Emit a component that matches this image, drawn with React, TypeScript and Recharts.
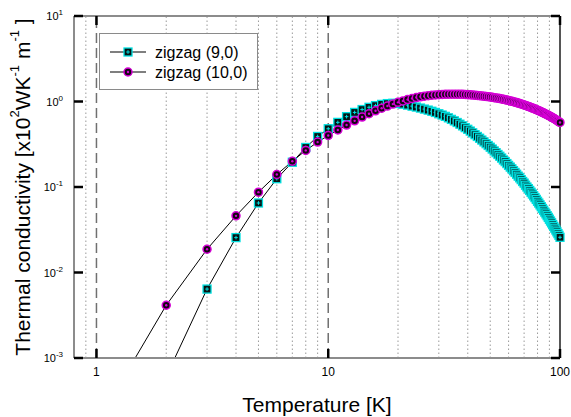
import React from "react";
import { ComposedChart, Line, XAxis, YAxis, ReferenceLine } from "recharts";

// temperature grid [K]
const temperature = [
  1, 2, 3, 4, 5, 6, 7, 8, 9, 10, 11, 12, 13, 14, 15, 16, 17, 18, 19, 20,
  21, 22, 23, 24, 25, 26, 27, 28, 29, 30, 31, 32, 33, 34, 35, 36, 37, 38, 39, 40,
  41, 42, 43, 44, 45, 46, 47, 48, 49, 50, 51, 52, 53, 54, 55, 56, 57, 58, 59, 60,
  61, 62, 63, 64, 65, 66, 67, 68, 69, 70, 71, 72, 73, 74, 75, 76, 77, 78, 79, 80,
  81, 82, 83, 84, 85, 86, 87, 88, 89, 90, 91, 92, 93, 94, 95, 96, 97, 98, 99, 100,
];

// thermal conductivity, zigzag (9,0)
const zigzag90 = [
  0.000025, 0.00061, 0.0064, 0.0256, 0.065, 0.125, 0.195, 0.29, 0.39, 0.48,
  0.57, 0.665, 0.745, 0.805, 0.855, 0.895, 0.925, 0.945, 0.953, 0.948,
  0.931, 0.908, 0.883, 0.861, 0.838, 0.815, 0.793, 0.769, 0.745, 0.719,
  0.695, 0.67, 0.644, 0.618, 0.593, 0.568, 0.543, 0.519, 0.495, 0.473,
  0.451, 0.43, 0.409, 0.39, 0.372, 0.354, 0.337, 0.321, 0.306, 0.292,
  0.278, 0.264, 0.252, 0.24, 0.229, 0.218, 0.207, 0.198, 0.188, 0.179,
  0.171, 0.163, 0.155, 0.148, 0.141, 0.134, 0.128, 0.122, 0.116, 0.111,
  0.105, 0.1, 0.0957, 0.0912, 0.0869, 0.0828, 0.0789, 0.0752, 0.0716, 0.0681,
  0.0649, 0.0618, 0.0589, 0.0561, 0.0535, 0.0509, 0.0485, 0.0462, 0.0441, 0.042,
  0.04, 0.0381, 0.0363, 0.0346, 0.033, 0.0314, 0.0299, 0.0285, 0.0272, 0.0258,
];

// thermal conductivity, zigzag (10,0)
const zigzag100 = [
  0.00017, 0.00414, 0.0187, 0.046, 0.087, 0.14, 0.2, 0.268, 0.335, 0.401,
  0.465, 0.53, 0.594, 0.658, 0.719, 0.778, 0.834, 0.885, 0.933, 0.977,
  1.016, 1.052, 1.084, 1.112, 1.135, 1.153, 1.169, 1.183, 1.194, 1.202,
  1.208, 1.213, 1.216, 1.219, 1.219, 1.219, 1.216, 1.213, 1.208, 1.202,
  1.197, 1.189, 1.183, 1.175, 1.169, 1.161, 1.153, 1.146, 1.138, 1.13,
  1.119, 1.109, 1.102, 1.091, 1.081, 1.072, 1.059, 1.05, 1.038, 1.028,
  1.016, 1.005, 0.993, 0.982, 0.971, 0.959, 0.946, 0.935, 0.923, 0.912,
  0.899, 0.887, 0.875, 0.863, 0.851, 0.839, 0.828, 0.815, 0.804, 0.792,
  0.78, 0.769, 0.757, 0.746, 0.735, 0.723, 0.711, 0.702, 0.69, 0.679,
  0.668, 0.656, 0.646, 0.634, 0.624, 0.612, 0.601, 0.59, 0.579, 0.569,
];

const seriesNames = ["zigzag (9,0)", "zigzag (10,0)"];
const xTicks = [1, 10, 100];
const yTicks = [0.001, 0.01, 0.1, 1, 10];
const dashedX = [1, 10];
const dottedX = [0.9, 2, 3, 4, 5, 6, 7, 8, 9, 20, 30, 40, 50, 60, 70, 80, 90];

const CYAN = "#00e0e0";
const MAGENTA = "#d600d6";
const FRAME = "#8c8c8c";
const FONT = "'Liberation Sans', Arial, sans-serif";

const rows = temperature.map((t, i) => ({
  t,
  k9: zigzag90[i],
  k10: zigzag100[i],
  m9: zigzag90[i] >= 0.001 ? zigzag90[i] : null,
  m10: zigzag100[i] >= 0.001 ? zigzag100[i] : null,
}));

function SquareMark({ cx, cy }: { cx: number; cy: number }) {
  return (
    <g>
      <rect x={cx - 4} y={cy - 4} width={8} height={8} fill="#061414" stroke={CYAN} strokeWidth={1.3} />
      <line x1={cx - 1.8} x2={cx + 1.8} y1={cy} y2={cy} stroke={CYAN} strokeWidth={1} />
      <line x1={cx} x2={cx} y1={cy - 1.8} y2={cy + 1.8} stroke={CYAN} strokeWidth={1} />
    </g>
  );
}

function CircleMark({ cx, cy }: { cx: number; cy: number }) {
  return (
    <g>
      <circle cx={cx} cy={cy} r={4} fill="#140614" stroke={MAGENTA} strokeWidth={1.5} />
      <circle cx={cx} cy={cy} r={1.2} fill={MAGENTA} />
    </g>
  );
}

const squareDot = (p: any) =>
  p.cx == null || p.cy == null ? <g key={p.index} /> : <g key={p.index}><SquareMark cx={p.cx} cy={p.cy} /></g>;
const circleDot = (p: any) =>
  p.cx == null || p.cy == null ? <g key={p.index} /> : <g key={p.index}><CircleMark cx={p.cx} cy={p.cy} /></g>;

function LeftTick({ x, y, payload }: any) {
  const exp = Math.round(Math.log10(payload.value));
  return (
    <g>
      <line x1={x} x2={x + 9} y1={y} y2={y} stroke="#000" strokeWidth={2.5} />
      <text x={x - 11} y={y + 4} textAnchor="end" fontSize={11} fontFamily={FONT} fill="#000">
        10<tspan dy={-5} fontSize={8}>{exp}</tspan>
      </text>
    </g>
  );
}

function RightTick({ x, y }: any) {
  return <line x1={x - 9} x2={x} y1={y} y2={y} stroke="#000" strokeWidth={2.5} />;
}

function BottomTick({ x, y, payload }: any) {
  return (
    <g>
      <line x1={x} x2={x} y1={y - 9} y2={y} stroke="#000" strokeWidth={2.5} />
      <text x={x} y={y + 18} textAnchor="middle" fontSize={12} fontFamily={FONT} fill="#000">
        {payload.value}
      </text>
    </g>
  );
}

function TopTick({ x, y }: any) {
  return <line x1={x} x2={x} y1={y} y2={y + 9} stroke="#000" strokeWidth={2.5} />;
}

const xLabel = (props: any) => {
  const vb = props.viewBox;
  return (
    <text x={vb.x + vb.width / 2} y={vb.y + 54} textAnchor="middle" fontSize={21} fontFamily={FONT} fill="#000">
      Temperature [K]
    </text>
  );
};

const yLabel = (props: any) => {
  const vb = props.viewBox;
  const cx = 22;
  const cy = vb.y + vb.height / 2;
  return (
    <text
      x={cx}
      y={cy}
      transform={`rotate(-90 ${cx} ${cy})`}
      textAnchor="middle"
      dominantBaseline="central"
      fontSize={21}
      fontFamily={FONT}
      fill="#000"
    >
      <tspan>Thermal conductivity [x10</tspan>
      <tspan dy={-8} fontSize={13}>2</tspan>
      <tspan dy={8}>WK</tspan>
      <tspan dy={-8} fontSize={13}>-1</tspan>
      <tspan dy={8}> m</tspan>
      <tspan dy={-8} fontSize={13}>-1</tspan>
      <tspan dy={8}> ]</tspan>
    </text>
  );
};

export default function App() {
  return (
    <div style={{ position: "absolute", left: 0, top: 0, width: 571, height: 417, background: "#fff" }}>
      <ComposedChart width={571} height={417} data={rows} margin={{ top: 0, right: 0, bottom: 0, left: 0 }}>
        <XAxis
          xAxisId="b"
          dataKey="t"
          type="number"
          scale="log"
          domain={[0.8, 100]}
          ticks={xTicks}
          interval={0}
          height={59}
          tickSize={0}
          tickMargin={0}
          tickLine={false}
          tick={<BottomTick />}
          axisLine={{ stroke: FRAME, strokeWidth: 2 }}
          label={xLabel}
        />
        <XAxis
          xAxisId="t"
          orientation="top"
          dataKey="t"
          type="number"
          scale="log"
          domain={[0.8, 100]}
          ticks={xTicks}
          interval={0}
          height={16}
          tickSize={0}
          tickMargin={0}
          tickLine={false}
          tick={<TopTick />}
          axisLine={{ stroke: FRAME, strokeWidth: 2 }}
        />
        <YAxis
          yAxisId="l"
          type="number"
          scale="log"
          domain={[0.001, 10]}
          allowDataOverflow
          ticks={yTicks}
          interval={0}
          width={74}
          tickSize={0}
          tickMargin={0}
          tickLine={false}
          tick={<LeftTick />}
          axisLine={{ stroke: FRAME, strokeWidth: 2 }}
          label={yLabel}
        />
        <YAxis
          yAxisId="r"
          orientation="right"
          type="number"
          scale="log"
          domain={[0.001, 10]}
          ticks={yTicks}
          interval={0}
          width={11}
          tickSize={0}
          tickMargin={0}
          tickLine={false}
          tick={<RightTick />}
          axisLine={{ stroke: "#555", strokeWidth: 2 }}
        />
        {dottedX.map((v) => (
          <ReferenceLine key={"d" + v} xAxisId="b" yAxisId="l" x={v} stroke="#9a9a9a" strokeDasharray="1.5 2.5" />
        ))}
        {dashedX.map((v) => (
          <ReferenceLine key={"m" + v} xAxisId="b" yAxisId="l" x={v} stroke="#707070" strokeWidth={1.5} strokeDasharray="10 5" />
        ))}
        <Line xAxisId="b" yAxisId="l" dataKey="k9" name={seriesNames[0]} stroke="#000" strokeWidth={1} dot={false} isAnimationActive={false} />
        <Line xAxisId="b" yAxisId="r" dataKey="m9" stroke="none" dot={squareDot} activeDot={false} isAnimationActive={false} />
        <Line xAxisId="b" yAxisId="l" dataKey="k10" name={seriesNames[1]} stroke="#000" strokeWidth={1} dot={false} isAnimationActive={false} />
        <Line xAxisId="b" yAxisId="r" dataKey="m10" stroke="none" dot={circleDot} activeDot={false} isAnimationActive={false} />
      </ComposedChart>
      <div
        style={{
          position: "absolute",
          left: 99,
          top: 33,
          width: 159,
          height: 57,
          boxSizing: "border-box",
          border: "1.5px solid #8a8a8a",
          background: "#fff",
        }}
      >
        <svg width={156} height={54} style={{ display: "block" }}>
          <line x1={10} x2={46} y1={18} y2={18} stroke="#000" strokeWidth={1.2} />
          <SquareMark cx={28} cy={18} />
          <text x={55} y={24} fontSize={16} fontFamily={FONT} fill="#000">{seriesNames[0]}</text>
          <line x1={10} x2={46} y1={38} y2={38} stroke="#000" strokeWidth={1.2} />
          <CircleMark cx={28} cy={38} />
          <text x={55} y={44} fontSize={16} fontFamily={FONT} fill="#000">{seriesNames[1]}</text>
        </svg>
      </div>
    </div>
  );
}
